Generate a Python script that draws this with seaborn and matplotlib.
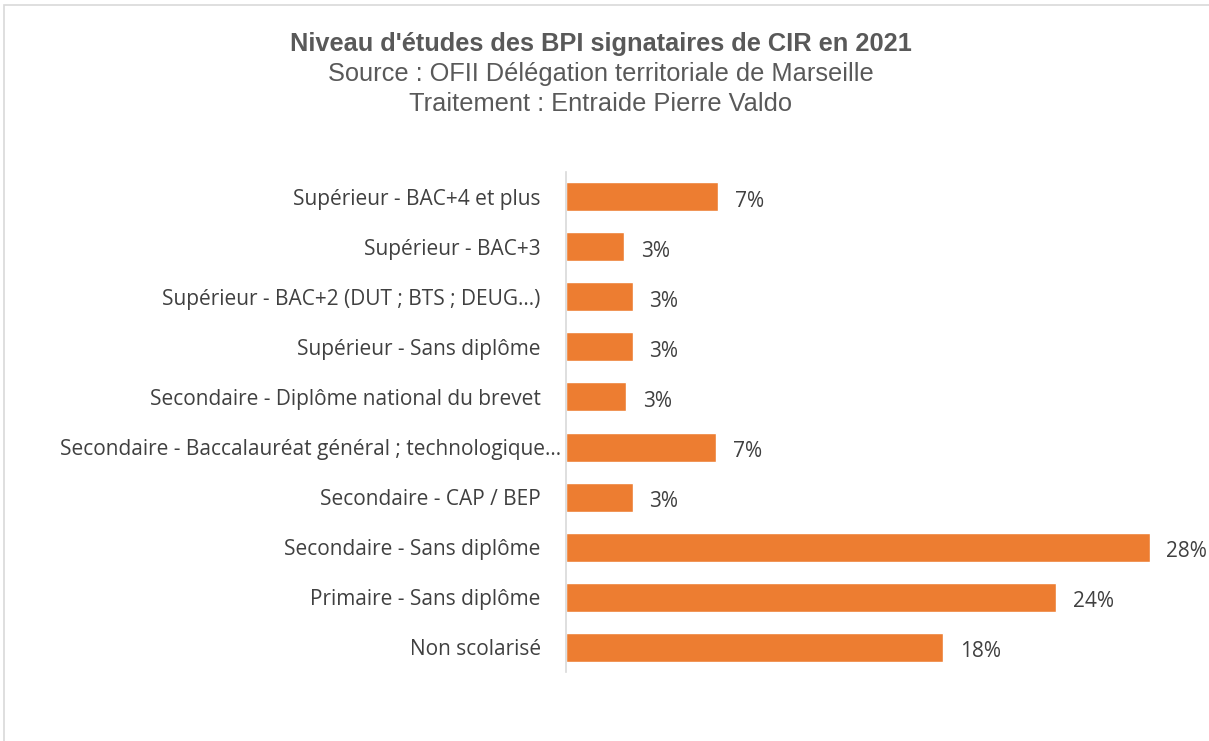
import matplotlib
matplotlib.use("Agg")
import matplotlib.pyplot as plt
import matplotlib.transforms as mtransforms
import pandas as pd
import seaborn as sns
from matplotlib.patches import Rectangle

categories = [
    "Supérieur - BAC+4 et plus",
    "Supérieur - BAC+3",
    "Supérieur - BAC+2 (DUT ; BTS ; DEUG...)",
    "Supérieur - Sans diplôme",
    "Secondaire - Diplôme national du brevet",
    "Secondaire - Baccalauréat général ; technologique…",
    "Secondaire - CAP / BEP",
    "Secondaire - Sans diplôme",
    "Primaire - Sans diplôme",
    "Non scolarisé",
]
values = [7.3, 2.8, 3.2, 3.2, 2.9, 7.2, 3.2, 28.0, 23.5, 18.1]
labels = ["7%", "3%", "3%", "3%", "3%", "7%", "3%", "28%", "24%", "18%"]

df = pd.DataFrame({"niveau": categories, "part": values})

sns.set_style("white")
plt.rcParams["font.family"] = ["Open Sans", "DejaVu Sans"]

fig = plt.figure(figsize=(12.09, 7.41), dpi=100)
ax = fig.add_axes([0.468, 0.0931, 0.483, 0.6748])

sns.barplot(data=df, y="niveau", x="part", color="#ED7D31", saturation=1,
            width=0.58, orient="h", ax=ax)

ax.set_xlim(0, 28)
ax.set_ylim(9.5, -0.5)
ax.set_xlabel("")
ax.set_ylabel("")
ax.set_xticks([])
for s in ["top", "right", "bottom"]:
    ax.spines[s].set_visible(False)
ax.spines["left"].set_color("#d9d9d9")
ax.spines["left"].set_linewidth(1.2)
ax.tick_params(axis="y", length=0, pad=18, labelsize=15, labelcolor="#404040")

# the truncated label sits closer to the axis
long_lab = ax.get_yticklabels()[5]
long_lab.set_transform(long_lab.get_transform() +
                       mtransforms.ScaledTranslation(20 / 100, 0, fig.dpi_scale_trans))

for i, (v, lab) in enumerate(zip(values, labels)):
    ax.annotate(lab, (v, i), xytext=(12, -3), textcoords="offset points",
                va="center", ha="left", fontsize=15, color="#404040",
                annotation_clip=False)

title_font = ["Liberation Sans", "DejaVu Sans"]
fig.text(0.497, 0.94, "Niveau d'études des BPI signataires de CIR en 2021",
         ha="center", va="center", fontsize=18.3, fontweight="bold",
         color="#595959", family=title_font)
fig.text(0.497, 0.90, "Source : OFII Délégation territoriale de Marseille",
         ha="center", va="center", fontsize=18.3, color="#595959",
         family=title_font)
fig.text(0.497, 0.86, "Traitement : Entraide Pierre Valdo",
         ha="center", va="center", fontsize=18.3, color="#595959",
         family=title_font)

fig.patches.append(Rectangle((4 / 1209, -0.01), 1.02, 1 - 5 / 741 + 0.01,
                             transform=fig.transFigure, fill=False,
                             edgecolor="#d9d9d9", linewidth=1.2))

fig.savefig("out.png", dpi=100)
